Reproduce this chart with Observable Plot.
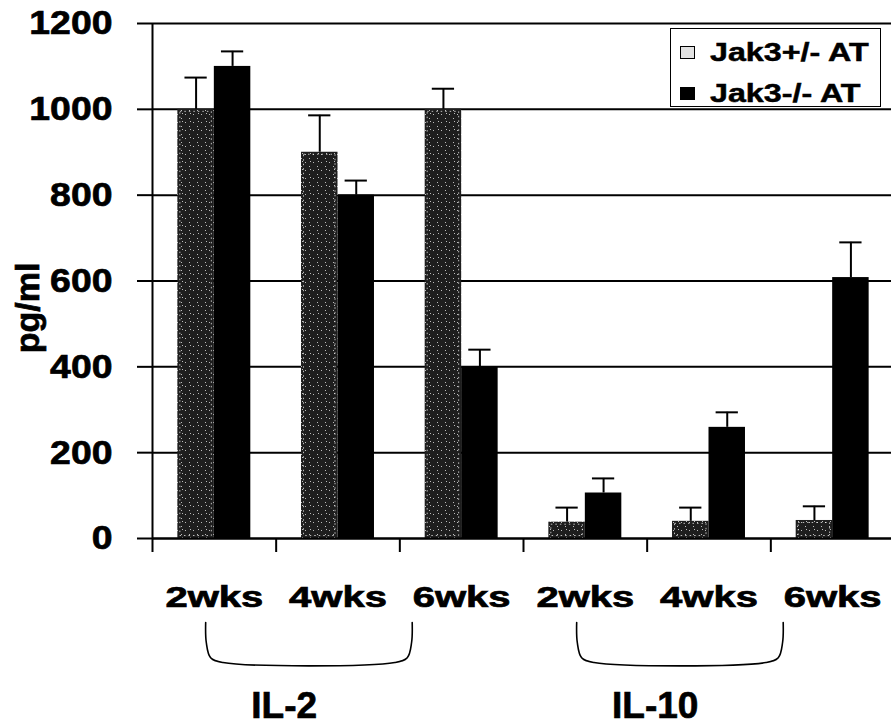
<!DOCTYPE html>
<html>
<head>
<meta charset="utf-8">
<script src="https://cdn.jsdelivr.net/npm/d3@7"></script>
<script src="https://cdn.jsdelivr.net/npm/@observablehq/plot@0.6"></script>
<style>
  html, body { margin: 0; padding: 0; background: #fff; }
  #chart { position: relative; width: 891px; height: 727px; overflow: hidden;
           font-family: "Liberation Sans", Arial, sans-serif; font-weight: bold; }
  #chart svg { display: block; }
  #chart svg text { stroke: #000; stroke-width: 0.7px; }
  .legend { position: absolute; left: 670px; top: 28px; width: 211px; height: 79px;
            border: 1.5px solid #000; background: #fff; box-sizing: border-box; }
  .legend .row { position: absolute; left: 9px; height: 30px; display: flex; align-items: center; white-space: nowrap; }
  .legend .sw { width: 15px; height: 13px; box-sizing: border-box; border: 1px solid #000; margin-right: 15px; flex: none; }
  .legend .lab { font-size: 26px; line-height: 30px; transform: scaleX(1.24); transform-origin: left center;
                 -webkit-text-stroke: 0.5px #000; }
</style>
</head>
<body>
<div id="chart"></div>
<script>
// Time points and cytokine groups
const weeks = ["2wks", "4wks", "6wks", "2wks", "4wks", "6wks"];
const cytokines = ["IL-2", "IL-10"];
const seriesNames = ["Jak3+/- AT", "Jak3-/- AT"];

// Mean concentration (pg/ml) and upper error (SD) per series
const hetMean = [1000, 900, 1000, 38, 40, 42];
const hetSD   = [74, 86, 48, 34, 32, 33];
const koMean  = [1100, 800, 400, 106, 259, 608];
const koSD    = [35, 34, 40, 34, 35, 82];

const yTicks = [0, 200, 400, 600, 800, 1000, 1200];

// One row per time point; pos is the category index on a continuous x scale
const rows = weeks.map((w, i) => ({
  pos: i + 1,
  week: w,
  cytokine: cytokines[Math.floor(i / 3)],
  het: hetMean[i], hetErr: hetSD[i],
  ko: koMean[i], koErr: koSD[i]
}));
const bounds = rows.map(r => r.pos - 0.5);

const barW = 0.295;   // bar width in category units
const capW = 0.09;    // half width of the error caps
const fontFamily = '"Liberation Sans", Arial, sans-serif';

const main = Plot.plot({
  width: 891, height: 615,
  marginLeft: 152, marginRight: -3, marginTop: 23, marginBottom: 77,
  style: { fontFamily, fontSize: "34px", fontWeight: "bold", color: "#000", background: "transparent", overflow: "visible" },
  x: { domain: [0.5, 6.5] },
  y: { domain: [0, 1200] },
  marks: [
    // horizontal gridlines
    Plot.ruleY(yTicks, { stroke: "#000", strokeWidth: 2 }),
    // left axis line
    Plot.ruleX([0.5], { y1: 0, y2: 1200, stroke: "#000", strokeWidth: 2 }),
    Plot.axisY({ ticks: yTicks, tickSize: 15, tickPadding: 25, strokeWidth: 2, tickFormat: "d",
                 fontSize: 34, label: null }),
    // axis title
    Plot.text(["pg/ml"], { frameAnchor: "left", rotate: -90, textAnchor: "middle", lineAnchor: "top",
                           dx: -138, dy: 27, fontSize: 34, ariaLabel: "y-axis title" }),
    // category boundary ticks
    Plot.axisX({ ticks: bounds, tickSize: 14, strokeWidth: 2, tickFormat: () => "", label: null }),
    // time point labels
    Plot.axisX({ ticks: rows.map(r => r.pos), tickSize: 0, tickPadding: 48, fontSize: 29,
                 tickFormat: p => weeks[p - 1], label: null }),
    // Jak3+/- bars (stippled) with dotted inner outline
    Plot.rectY(rows, { x1: d => d.pos - barW, x2: d => d.pos, y: "het", fill: "url(#stipple)" }),
    Plot.rectY(rows, { x1: d => d.pos - barW, x2: d => d.pos, y: "het", fill: "none",
                       stroke: "#fff", strokeOpacity: 0.7, strokeWidth: 1, strokeDasharray: "1.5 3", inset: 2.5 }),
    // Jak3-/- bars
    Plot.rectY(rows, { x1: d => d.pos, x2: d => d.pos + barW, y: "ko", fill: "#000" }),
    // upper error bars
    Plot.ruleX(rows, { x: d => d.pos - barW / 2, y1: "het", y2: d => d.het + d.hetErr, stroke: "#000", strokeWidth: 2 }),
    Plot.ruleY(rows, { y: d => d.het + d.hetErr, x1: d => d.pos - barW / 2 - capW, x2: d => d.pos - barW / 2 + capW, stroke: "#000", strokeWidth: 2 }),
    Plot.ruleX(rows, { x: d => d.pos + barW / 2, y1: "ko", y2: d => d.ko + d.koErr, stroke: "#000", strokeWidth: 2 }),
    Plot.ruleY(rows, { y: d => d.ko + d.koErr, x1: d => d.pos + barW / 2 - capW, x2: d => d.pos + barW / 2 + capW, stroke: "#000", strokeWidth: 2 }),
    // baseline
    Plot.ruleY([0], { stroke: "#000", strokeWidth: 2 })
  ]
});

// stipple pattern for the Jak3+/- bars
const defs = d3.select(main).insert("defs", ":first-child");
const pat = defs.append("pattern").attr("id", "stipple")
  .attr("patternUnits", "userSpaceOnUse").attr("width", 8).attr("height", 8);
pat.append("rect").attr("width", 8).attr("height", 8).attr("fill", "#1e1e1e");
[[1, 2], [5, 6], [6, 1]].forEach(([x, y]) =>
  pat.append("rect").attr("x", x).attr("y", y).attr("width", 1).attr("height", 1).attr("fill", "#fff").attr("fill-opacity", 0.7));

// brackets grouping the time points by cytokine
const brackets = cytokines.map(c => {
  const ps = rows.filter(r => r.cytokine === c).map(r => r.pos);
  return { cytokine: c, from: ps[0] - 0.07, to: ps[ps.length - 1] - 0.4 };
});
const bracketPts = brackets.flatMap(b => [
  [b.from, 1], [b.from + 0.005, 0.5], [b.from + 0.04, 0.12], [b.from + 0.14, 0],
  [b.to - 0.14, 0], [b.to - 0.04, 0.12], [b.to - 0.005, 0.5], [b.to, 1]
].map(([x, y]) => ({ g: b.cytokine, x, y })));

const lower = Plot.plot({
  width: 891, height: 112,
  marginLeft: 152, marginRight: -3, marginTop: 7, marginBottom: 65,
  style: { fontFamily, fontSize: "37px", fontWeight: "bold", color: "#000", background: "transparent", overflow: "visible" },
  x: { domain: [0.5, 6.5], axis: null },
  y: { domain: [0, 1], axis: null },
  marks: [
    Plot.line(bracketPts, { x: "x", y: "y", z: "g", curve: "catmull-rom", stroke: "#000", strokeWidth: 1.6 }),
    Plot.text(brackets, { x: d => (d.from + d.to) / 2 - 0.2, text: "cytokine", frameAnchor: "bottom", dy: 55, fontSize: 37 })
  ]
});

const chart = document.getElementById("chart");
chart.append(main, lower);

// widen label glyphs along their reading direction
function widen(root, sel, sx) {
  root.querySelectorAll(sel).forEach(el => {
    const w = el.getComputedTextLength();
    if (w > 0) {
      el.setAttribute("textLength", (w * sx).toFixed(1));
      el.setAttribute("lengthAdjust", "spacingAndGlyphs");
    }
  });
}
widen(main, 'g[aria-label="x-axis tick label"] text', 1.38);
widen(main, 'g[aria-label="y-axis tick label"] text', 1.1);
widen(main, 'g[aria-label="y-axis title"] text', 1.2);

// legend
const legend = document.createElement("div");
legend.className = "legend";
const swatches = ["#e2e2e2", "#000"];
seriesNames.forEach((name, i) => {
  const row = document.createElement("div");
  row.className = "row";
  row.style.top = (i === 0 ? 8 : 49) + "px";
  const sw = document.createElement("span");
  sw.className = "sw";
  sw.style.background = swatches[i];
  const lab = document.createElement("span");
  lab.className = "lab";
  lab.textContent = name;
  row.append(sw, lab);
  legend.append(row);
});
chart.append(legend);
</script>
</body>
</html>
